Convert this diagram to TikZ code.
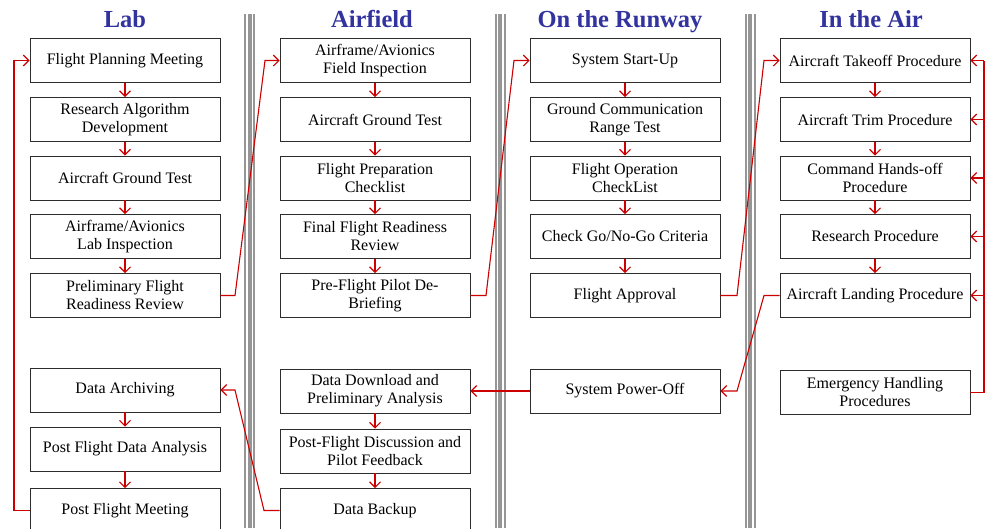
\documentclass[tikz,border=0pt]{standalone}
\usepackage{fontspec}
\setmainfont{Liberation Serif}
\usetikzlibrary{arrows.meta}
\definecolor{flowred}{RGB}{204,0,0}
\definecolor{headblue}{RGB}{51,51,160}
\definecolor{sepgray}{RGB}{150,150,150}
\definecolor{boxline}{RGB}{45,45,45}
\tikzset{
  stage/.style={draw=boxline, line width=0.9pt, fill=white, minimum width=190pt,
    minimum height=44pt, align=center, inner sep=2pt,
    font=\fontsize{16}{18}\selectfont},
  heading/.style={anchor=base, text=headblue, font=\fontsize{24.5}{28}\selectfont\bfseries},
  flow/.style={draw=flowred, line width=1.1pt, -{Straight Barb[length=5.5pt,width=11pt]}},
  link/.style={draw=flowred, line width=1.1pt},
  sepband/.style={draw=sepgray}
}
\begin{document}
\begin{tikzpicture}[x=1pt,y=-1pt]
\useasboundingbox (0,0) rectangle (986,528);
\clip (0,0) rectangle (986,528);
\fill[white] (0,0) rectangle (986,528);

% column separators (triple rules)
\foreach \c in {249.5,500,750}{
  \draw[sepband, line width=2pt] (\c-4.5,14) -- (\c-4.5,528);
  \draw[sepband, line width=4pt] (\c,14) -- (\c,528);
  \draw[sepband, line width=2pt] (\c+4.5,14) -- (\c+4.5,528);
}

% headings
\node[heading] (hLab) at (125,27) {Lab};
\node[heading] (hField) at (372,27) {Airfield};
\node[heading] (hRun) at (620,27) {On the Runway};
\node[heading] (hAir) at (871,27) {In the Air};

% Lab
\node[stage] (l1) at (125,60.5) {Flight Planning Meeting};
\node[stage] (l2) at (125,119.5) {Research Algorithm\\Development};
\node[stage] (l3) at (125,178) {Aircraft Ground Test};
\node[stage] (l4) at (125,236.5) {Airframe/Avionics\\Lab Inspection};
\node[stage] (l5) at (125,295.5) {Preliminary Flight\\Readiness Review};
\node[stage] (l6) at (125,390) {Data Archiving};
\node[stage] (l7) at (125,449) {Post Flight Data Analysis};
\node[stage] (l8) at (125,510.5) {Post Flight Meeting};

% Airfield
\node[stage] (a1) at (375,60.5) {Airframe/Avionics\\Field Inspection};
\node[stage] (a2) at (375,119.5) {Aircraft Ground Test};
\node[stage] (a3) at (375,178) {Flight Preparation\\Checklist};
\node[stage] (a4) at (375,236.5) {Final Flight Readiness\\Review};
\node[stage] (a5) at (375,295.5) {Pre-Flight Pilot De-\\Briefing};
\node[stage] (a6) at (375,391) {Data Download and\\Preliminary Analysis};
\node[stage] (a7) at (375,451) {Post-Flight Discussion and\\Pilot Feedback};
\node[stage] (a8) at (375,510.5) {Data Backup};

% On the runway
\node[stage] (r1) at (625,60.5) {System Start-Up};
\node[stage] (r2) at (625,119.5) {Ground Communication\\Range Test};
\node[stage] (r3) at (625,178) {Flight Operation\\CheckList};
\node[stage] (r4) at (625,236.5) {Check Go/No-Go Criteria};
\node[stage] (r5) at (625,295.5) {Flight Approval};
\node[stage] (r6) at (625,391) {System Power-Off};

% In the air
\node[stage] (f1) at (875,60.5) {Aircraft Takeoff Procedure};
\node[stage] (f2) at (875,119.5) {Aircraft Trim Procedure};
\node[stage] (f3) at (875,178) {Command Hands-off\\Procedure};
\node[stage] (f4) at (875,236.5) {Research Procedure};
\node[stage] (f5) at (875,295.5) {Aircraft Landing Procedure};
\node[stage] (f6) at (875,392.5) {Emergency Handling\\Procedures};

% sequential steps within each column
\foreach \u/\v in {l1/l2,l2/l3,l3/l4,l4/l5,l6/l7,l7/l8,
                   a1/a2,a2/a3,a3/a4,a4/a5,a6/a7,a7/a8,
                   r1/r2,r2/r3,r3/r4,r4/r5,
                   f1/f2,f2/f3,f3/f4,f4/f5}{
  \draw[flow] (\u.south) -- (\v.north);
}

% hand-overs between columns
\coordinate (j1a) at (235,295.5); \coordinate (j1b) at (265,60.5);
\draw[flow] (l5.east) -- (j1a) -- (j1b) -- (a1.west);
\coordinate (j2a) at (486,295.5); \coordinate (j2b) at (514,60.5);
\draw[flow] (a5.east) -- (j2a) -- (j2b) -- (r1.west);
\coordinate (j3a) at (737,295.5); \coordinate (j3b) at (764,60.5);
\draw[flow] (r5.east) -- (j3a) -- (j3b) -- (f1.west);
\coordinate (j4a) at (764,295.5); \coordinate (j4b) at (737,391);
\draw[flow] (f5.west) -- (j4a) -- (j4b) -- (r6.east);
\draw[flow] (r6.west) -- (a6.east);
\coordinate (j5a) at (264,510.5); \coordinate (j5b) at (235,390);
\draw[flow] (a8.west) -- (j5a) -- (j5b) -- (l6.east);

% lab loop back to planning
\coordinate (lpA) at (14,510.5); \coordinate (lpB) at (14,60.5);
\draw[flow] (l8.west) -- (lpA) -- (lpB) -- (l1.west);

% emergency handling feeds every in-air procedure
\coordinate (emA) at (984,392.5); \coordinate (emB) at (984,60.5);
\draw[link] (f6.east) -- (emA) -- (emB);
\foreach \t in {f1,f2,f3,f4,f5}{
  \draw[flow] (\t.east -| emA) -- (\t.east);
}
\end{tikzpicture}
\end{document}
